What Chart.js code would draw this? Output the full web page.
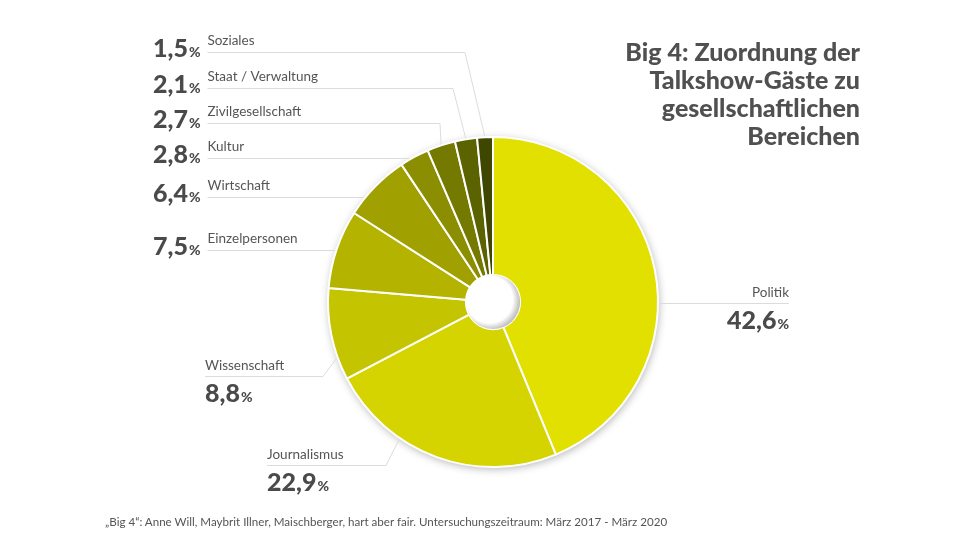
<!DOCTYPE html>
<html lang="de">
<head>
<meta charset="utf-8">
<script src="https://cdn.jsdelivr.net/npm/chart.js@4"></script>
<style>
  html, body { margin: 0; padding: 0; background: #fff; }
  #wrap { position: relative; width: 971px; height: 546px; font-family: Lato, sans-serif; color: #555; }
  #chart { position: absolute; left: 0; top: 0; }
  #title { position: absolute; right: 111px; top: 37px; text-align: right; font-weight: 900; font-size: 25px; line-height: 28px; color: #505050; }
  #note { position: absolute; left: 105px; top: 515px; font-size: 11.6px; line-height: 14px; white-space: nowrap; }
</style>
</head>
<body>
<div id="wrap">
  <canvas id="chart" width="971" height="546"></canvas>
  <div id="title">Big 4: Zuordnung der<br>Talkshow-Gäste zu<br>gesellschaftlichen<br>Bereichen</div>
  <div id="note">„Big 4“: Anne Will, Maybrit Illner, Maischberger, hart aber fair. Untersuchungszeitraum: März 2017 - März 2020</div>
</div>
<script>
// Anteile der Gäste je Bereich (in %), im Uhrzeigersinn ab 12 Uhr
const categories = ['Politik', 'Journalismus', 'Wissenschaft', 'Einzelpersonen', 'Wirtschaft',
                    'Kultur', 'Zivilgesellschaft', 'Staat / Verwaltung', 'Soziales'];
const shares = [42.6, 22.9, 8.8, 7.5, 6.4, 2.8, 2.7, 2.1, 1.5];
const colors = ['#e2e000', '#d5d400', '#c5c400', '#b3b300', '#a0a000',
                '#8b8e00', '#747900', '#5b6200', '#3e4600'];

// where each label sits (same order as categories)
const labelLayout = [
    { side: 'right', x: 789, y: 303, frac: 0.571 },
    { side: 'below', x: 267, y: 465, elbow: 386, frac: 0.67 },
    { side: 'below', x: 205, y: 376, elbow: 323, frac: 0.25 },
    { side: 'left', x: 153, y: 250, frac: 0.49 },
    { side: 'left', x: 153, y: 197, frac: 0.29 },
    { side: 'left', x: 153, y: 158, frac: 0.43 },
    { side: 'left', x: 153, y: 123, elbow: 440, frac: 0.5 },
    { side: 'left', x: 153, y: 88, elbow: 453, frac: 0.5 },
    { side: 'left', x: 153, y: 52, elbow: 465, frac: 0.5 }
];

const NUM_FONT = '900 25px Lato';
const PCT_FONT = '900 14px Lato';
const NAME_FONT = '13.5px Lato';

function fmt(v) {
    return v.toFixed(1).replace('.', ',');
}

function numberWidth(ctx, v) {
    ctx.font = NUM_FONT;
    const w1 = ctx.measureText(fmt(v)).width;
    ctx.font = PCT_FONT;
    return w1 + ctx.measureText('%').width + 1;
}

function drawNumber(ctx, v, x, y) {
    ctx.fillStyle = '#4a4a4a';
    ctx.textAlign = 'left';
    ctx.font = NUM_FONT;
    const txt = fmt(v);
    ctx.fillText(txt, x, y);
    const w = ctx.measureText(txt).width;
    ctx.font = PCT_FONT;
    ctx.fillText('%', x + w + 1, y);
}

const sliceLabels = {
    id: 'sliceLabels',
    beforeDatasetsDraw(chart) {
        const ctx = chart.ctx;
        const arcs = chart.getDatasetMeta(0).data;
        const cx = arcs[0].x, cy = arcs[0].y, R = arcs[0].outerRadius;

        // soft shadow under the ring
        ctx.save();
        ctx.shadowColor = 'rgba(0,0,0,0.3)';
        ctx.shadowBlur = 9;
        ctx.shadowOffsetX = 1;
        ctx.shadowOffsetY = 2;
        ctx.beginPath();
        ctx.arc(cx, cy, R, 0, Math.PI * 2);
        ctx.fillStyle = '#fff';
        ctx.fill();
        ctx.restore();

        // leader lines
        ctx.save();
        ctx.strokeStyle = '#dcdcdc';
        ctx.lineWidth = 1;
        arcs.forEach((arc, i) => {
            const lay = labelLayout[i];
            const a = arc.startAngle + lay.frac * (arc.endAngle - arc.startAngle);
            const ax = cx + R * Math.cos(a), ay = cy + R * Math.sin(a);
            let sx = lay.x;
            if (lay.side === 'left') {
                sx = lay.x + numberWidth(ctx, shares[i]) + 7;
            }
            const ex = lay.elbow !== undefined ? lay.elbow : ax;
            ctx.beginPath();
            ctx.moveTo(sx, lay.y + 0.5);
            ctx.lineTo(ex, lay.y + 0.5);
            ctx.lineTo(ax, ay);
            ctx.stroke();
        });
        ctx.restore();
    },
    afterDatasetsDraw(chart) {
        const ctx = chart.ctx;
        const arcs = chart.getDatasetMeta(0).data;
        const cx = arcs[0].x, cy = arcs[0].y, r = arcs[0].innerRadius;

        // shaded hole, darker towards the lower right
        ctx.save();
        const g = ctx.createRadialGradient(cx - 6, cy - 4, 0, cx - 3, cy - 2, r + 3);
        g.addColorStop(0, '#ffffff');
        g.addColorStop(0.78, '#ffffff');
        g.addColorStop(1, '#bdbdbd');
        ctx.beginPath();
        ctx.arc(cx, cy, r, 0, Math.PI * 2);
        ctx.fillStyle = g;
        ctx.fill();
        ctx.restore();

        // texts
        ctx.save();
        ctx.textBaseline = 'alphabetic';
        arcs.forEach((arc, i) => {
            const lay = labelLayout[i];
            const name = categories[i];
            const v = shares[i];
            if (lay.side === 'left') {
                drawNumber(ctx, v, lay.x, lay.y + 5);
                const nx = lay.x + numberWidth(ctx, v) + 7;
                ctx.font = NAME_FONT;
                ctx.fillStyle = '#555';
                ctx.textAlign = 'left';
                ctx.fillText(name, nx, lay.y - 7);
            } else if (lay.side === 'below') {
                ctx.font = NAME_FONT;
                ctx.fillStyle = '#555';
                ctx.textAlign = 'left';
                ctx.fillText(name, lay.x, lay.y - 6);
                drawNumber(ctx, v, lay.x, lay.y + 26);
            } else {
                ctx.font = NAME_FONT;
                ctx.fillStyle = '#555';
                ctx.textAlign = 'right';
                ctx.fillText(name, lay.x, lay.y - 6);
                drawNumber(ctx, v, lay.x - numberWidth(ctx, v), lay.y + 26);
            }
        });
        ctx.restore();
    }
};

Promise.all([document.fonts.load('900 25px Lato'), document.fonts.load('13px Lato')]).then(() => {
    const ctx = document.getElementById('chart').getContext('2d');
    new Chart(ctx, {
        type: 'doughnut',
        data: {
            labels: categories,
            datasets: [{
                data: shares,
                backgroundColor: colors,
                borderColor: '#ffffff',
                borderWidth: 2,
                hoverOffset: 0
            }]
        },
        options: {
            responsive: false,
            animation: false,
            radius: 165,
            cutout: 33,
            layout: {
                padding: { left: 200, right: 185, top: 100, bottom: 42 }
            },
            plugins: {
                legend: { display: false },
                tooltip: { enabled: false }
            }
        },
        plugins: [sliceLabels]
    });
});
</script>
</body>
</html>
